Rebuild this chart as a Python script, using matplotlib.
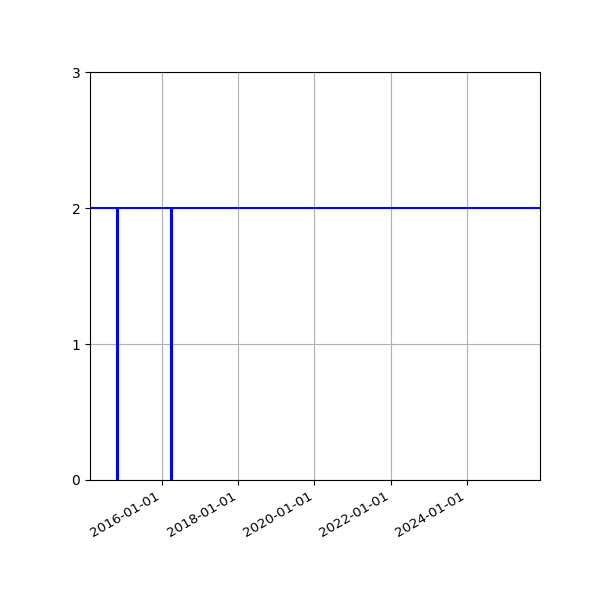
import matplotlib
matplotlib.use("Agg")
import matplotlib.pyplot as plt
import matplotlib.dates as mdates
import numpy as np
from datetime import datetime

x_range = [datetime(2014, 2, 10), datetime(2025, 12, 1)]
event_dates = [datetime(2014, 10, 28), datetime(2016, 3, 30)]
level = 2
y_range = [0, 3]

fig, ax = plt.subplots(figsize=(6, 6), dpi=100)
ax.axhline(level, color="blue", lw=1.5)
ax.vlines(event_dates, 0, level, color="blue", lw=2.2)
ax.set_xlim(x_range)
ax.set_ylim(y_range)
ax.set_yticks([0, 1, 2, 3])
ax.xaxis.set_major_locator(mdates.YearLocator(2))
ax.xaxis.set_major_formatter(mdates.DateFormatter("%Y-%m-%d"))
ax.tick_params(axis="x", labelsize=9.6)
ax.grid(True)
fig.autofmt_xdate()
fig.subplots_adjust(left=0.15, right=0.9, top=0.88, bottom=0.2)
fig.savefig("out.png")
